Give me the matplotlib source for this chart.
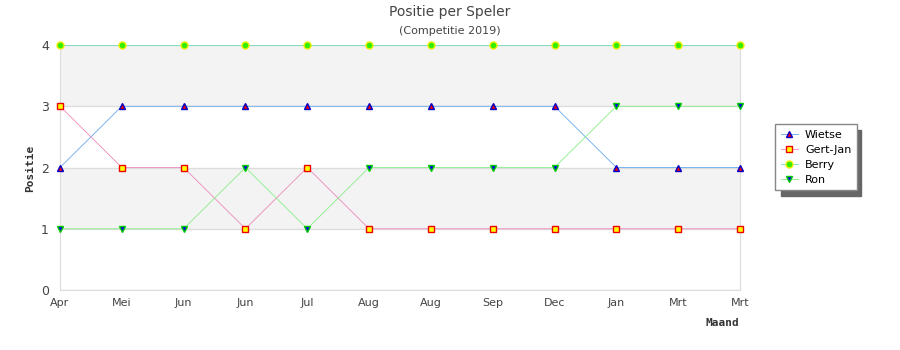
import matplotlib
matplotlib.use("Agg")
import matplotlib.pyplot as plt
from matplotlib.patches import Rectangle

# data
maanden = ["Apr", "Mei", "Jun", "Jun", "Jul", "Aug", "Aug", "Sep", "Dec", "Jan", "Mrt", "Mrt"]
wietse = [2, 3, 3, 3, 3, 3, 3, 3, 3, 2, 2, 2]
gert_jan = [3, 2, 2, 1, 2, 1, 1, 1, 1, 1, 1, 1]
berry = [4, 4, 4, 4, 4, 4, 4, 4, 4, 4, 4, 4]
ron = [1, 1, 1, 2, 1, 2, 2, 2, 2, 3, 3, 3]

x = list(range(len(maanden)))

fig = plt.figure(figsize=(9, 3.5), dpi=100)
ax = fig.add_axes([60 / 900, 1 - 290 / 350, 680 / 900, 245 / 350])

# alternating bands
for lo in (1, 3):
    ax.axhspan(lo, lo + 1, color="#f3f3f3", zorder=0, lw=0)
for yv in range(0, 5):
    ax.axhline(yv, color="#dddddd", lw=1, zorder=1)

ax.plot(x, berry, color="#77ddbb", lw=0.6, marker="o", ms=5,
        mfc="#33ee00", mec="#eeee00", mew=1, label="Berry", zorder=3, clip_on=False)
ax.plot(x, wietse, color="#66aaee", lw=0.6, marker="^", ms=5,
        mfc="#ee0000", mec="#0000cc", mew=1, label="Wietse", zorder=4, clip_on=False)
ax.plot(x, gert_jan, color="#ee88bb", lw=0.6, marker="s", ms=4,
        mfc="#ffff00", mec="#ee0000", mew=1, label="Gert-Jan", zorder=4, clip_on=False)
ax.plot(x, ron, color="#88ee88", lw=0.6, marker="v", ms=5,
        mfc="#0000ee", mec="#00cc00", mew=1, label="Ron", zorder=4, clip_on=False)

ax.set_xlim(0, len(maanden) - 1)
ax.set_ylim(0, 4)
ax.set_xticks(x)
ax.set_xticklabels(maanden)
ax.set_yticks(range(5))
ax.tick_params(length=0, labelsize=8, colors="#444444", pad=6)
ax.tick_params(axis="y", labelsize=9, pad=8)
ax.spines["top"].set_visible(False)
for s in ("left", "right", "bottom"):
    ax.spines[s].set_color("#dddddd")

fig.text(450 / 900, 1 - 12 / 350, "Positie per Speler", ha="center", va="center",
         fontsize=10, color="#444444")
fig.text(450 / 900, 1 - 31 / 350, "(Competitie 2019)", ha="center", va="center",
         fontsize=8, color="#444444")
fig.text(30 / 900, 1 - 168 / 350, "Positie", rotation=90, ha="center", va="center",
         fontsize=8, family="DejaVu Sans Mono", fontweight="bold", color="#333333")
fig.text(722 / 900, 1 - 323 / 350, "Maand", ha="center", va="center",
         fontsize=8, family="DejaVu Sans Mono", fontweight="bold", color="#333333")

# legend with shadow
shadow = Rectangle((781 / 900, 1 - 196 / 350), 80 / 900, 66 / 350,
                   transform=fig.transFigure, color="#666666", zorder=0)
fig.patches.append(shadow)
handles, labels = ax.get_legend_handles_labels()
order = [1, 2, 0, 3]
leg = fig.legend([handles[i] for i in order], [labels[i] for i in order],
                 loc="upper left", bbox_to_anchor=(775 / 900, 1 - 124 / 350),
                 fontsize=8, frameon=True, fancybox=False, handlelength=1.6,
                 labelspacing=0.45, borderpad=0.5, handletextpad=0.6,
                 borderaxespad=0)
leg.get_frame().set_edgecolor("#888888")
leg.get_frame().set_linewidth(1)
leg.get_frame().set_alpha(1)

fig.savefig("out.png", dpi=100)
